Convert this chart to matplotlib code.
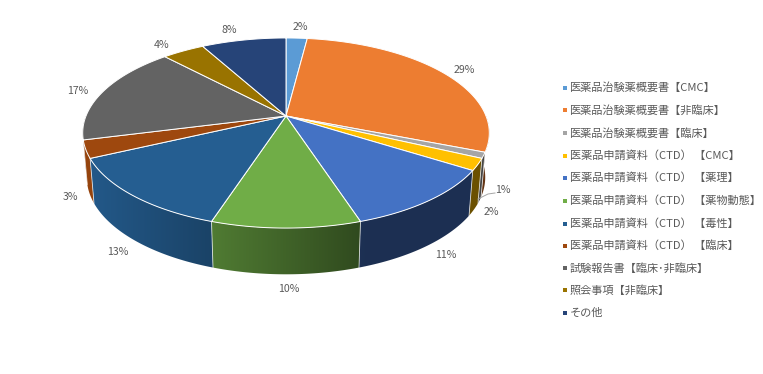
import numpy as np
import matplotlib
matplotlib.use("Agg")
import matplotlib.pyplot as plt
from matplotlib.colors import to_rgb
from matplotlib.patches import Polygon

plt.rcParams['font.family'] = ['Noto Sans CJK JP', 'DejaVu Sans']

categories = ['医薬品治験薬概要書【CMC】', '医薬品治験薬概要書【非臨床】', '医薬品治験薬概要書【臨床】',
              '医薬品申請資料（CTD） 【CMC】', '医薬品申請資料（CTD） 【薬理】', '医薬品申請資料（CTD） 【薬物動態】',
              '医薬品申請資料（CTD） 【毒性】', '医薬品申請資料（CTD） 【臨床】', '試験報告書【臨床･非臨床】',
              '照会事項【非臨床】', 'その他']
values = [2, 29, 1, 2, 11, 10, 13, 3, 17, 4, 8]
colors = ['#5B9BD5', '#ED7D31', '#A5A5A5', '#FFC000', '#4472C4', '#70AD47',
          '#255E91', '#9E480E', '#636363', '#997300', '#264478']
label_pos = [(300, 27), (464, 70), (503, 190), (491, 212), (446, 255), (289, 289),
             (118, 252), (70, 197), (78, 91), (162, 45), (229, 30)]
legend_y = [88, 110, 133, 156, 178, 201, 224, 246, 268, 290, 313]

W, H = 763, 374
CX, CY, A, B, K = 286, 116, 200, 92, 0.179
TEXT = '#595959'


def top(theta):
    X, Y = np.sin(theta), np.cos(theta)
    w = 1 + K * Y
    return CX + A * X / w, CY - B * Y / w


def bottom(theta):
    x, y = top(theta)
    return CX + (x - CX) * 0.98, 160 + (y - CY) * 1.02


fig = plt.figure(figsize=(W / 100, H / 100), dpi=100, facecolor='white')
ax = fig.add_axes([0, 0, 1, 1])
ax.set_xlim(0, W)
ax.set_ylim(H, 0)
ax.axis('off')

edges = np.radians(np.concatenate([[0], np.cumsum(values)]) * 3.6)

# side wall: a horizontal gradient clipped to each slice's wall outline
order = np.argsort(-np.cos((edges[:-1] + edges[1:]) / 2))
for i in order:
    lo, hi = max(edges[i], np.pi / 2), min(edges[i + 1], 3 * np.pi / 2)
    if hi <= lo:
        continue
    t = np.linspace(lo, hi, 200)
    xt, yt = top(t)
    xb, yb = bottom(t)
    px = np.r_[xt, xb[::-1]]
    py = np.r_[yt, yb[::-1]]
    x0, x1 = px.min() - 1, px.max() + 1
    y0, y1 = py.min() - 1, py.max() + 1
    xs = np.linspace(x0, x1, 256)
    f = np.clip(0.7 - 0.0019 * (xs - 218), 0.42, 0.95)
    img = np.outer(f, to_rgb(colors[i]))[None, :, :]
    im = ax.imshow(img, extent=(x0, x1, y1, y0), aspect='auto', zorder=2, interpolation='bilinear')
    im.set_clip_path(Polygon(np.c_[px, py], closed=True, transform=ax.transData))
ax.set_xlim(0, W)
ax.set_ylim(H, 0)

# separators on the visible wall
for e in edges:
    if np.cos(e) < -K:
        xa, ya = top(e)
        xb, yb = bottom(e)
        ax.plot([xa, xb], [ya, yb], color='white', lw=0.6, alpha=0.75, zorder=3)

# top face
for i, col in enumerate(colors):
    t = np.linspace(edges[i], edges[i + 1], 200)
    x, y = top(t)
    ax.fill(np.r_[CX, x], np.r_[CY, y], facecolor=col, edgecolor='white', lw=0.7,
            joinstyle='round', zorder=4)

# value labels
for v, (x, y) in zip(values, label_pos):
    ax.text(x, y, f'{v}%', ha='center', va='center', fontsize=7.6, color=TEXT, zorder=6)

# leader line for the 1% slice
ax.plot([478, 488, 495], [199, 194, 193], color='#A6A6A6', lw=0.7, zorder=5)

# legend
for name, col, y in zip(categories, colors, legend_y):
    ax.scatter([564.5], [y], marker='s', s=10, color=col, linewidths=0, zorder=5)
    ax.text(570, y, name, ha='left', va='center', fontsize=8.05, color=TEXT, zorder=6)

fig.savefig('out.png', dpi=100, facecolor='white')
